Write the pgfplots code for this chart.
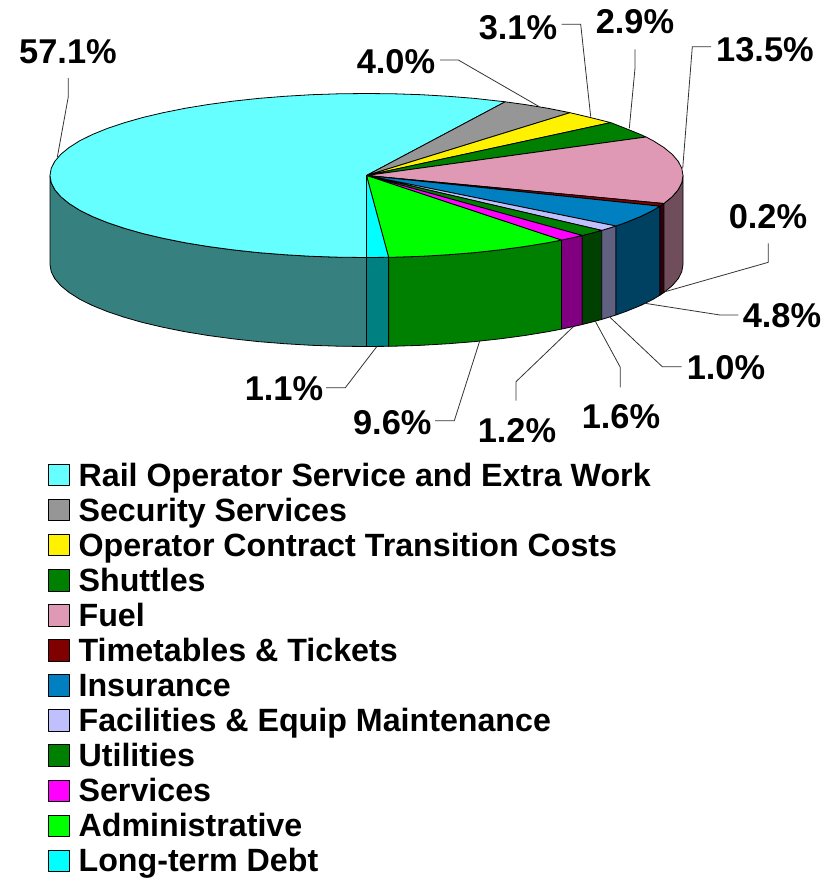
\documentclass[border=0pt]{standalone}
\usepackage{fontspec}
\setmainfont{Liberation Sans}
\usepackage{pgfplots}
\pgfplotsset{compat=1.18}
\definecolor{cRail}{RGB}{102,255,255}
\definecolor{cRailS}{RGB}{55,128,128}
\definecolor{cSec}{RGB}{150,150,150}
\definecolor{cFuel}{RGB}{223,153,180}
\definecolor{cFuelS}{RGB}{111,77,90}
\definecolor{cTime}{RGB}{128,0,0}
\definecolor{cTimeS}{RGB}{50,0,10}
\definecolor{cIns}{RGB}{0,128,192}
\definecolor{cInsS}{RGB}{0,64,96}
\definecolor{cFac}{RGB}{192,192,255}
\definecolor{cFacS}{RGB}{96,96,128}
\definecolor{cUtilS}{RGB}{0,64,0}
\definecolor{cGreen}{RGB}{0,128,0}
\definecolor{cServ}{RGB}{255,0,255}
\definecolor{cServS}{RGB}{128,0,128}
\definecolor{cAdm}{RGB}{0,255,0}
\definecolor{cDebt}{RGB}{0,255,255}
\definecolor{cDebtS}{RGB}{0,128,128}
\pgfplotsset{
  wedge/.style={fill=#1,draw=black,line width=0.8pt,line join=round,mark=none},
  side/.style={fill=#1,draw=black,line width=0.8pt,line join=round,mark=none,forget plot},
  leader/.style={draw=black!80,line width=0.8pt,mark=none,forget plot},
}
\newcommand{\pct}[3]{\node[font=\fontsize{34.4}{34.4}\selectfont\bfseries,inner sep=0pt] at (axis cs:#1,#2) {#3};}
\begin{document}
\begin{tikzpicture}
\begin{axis}[
  hide axis, scale only axis, width=821pt, height=879pt,
  xmin=0, xmax=821, ymin=0, ymax=879, y dir=reverse, clip=false,
  legend cell align=left,
  legend image code/.code={\draw[#1] (0pt,0.5pt) rectangle (21.3pt,21.8pt);},
  legend style={at={(axis cs:48,456.2)},anchor=north west,draw=none,fill=none,
    inner sep=0pt,outer sep=0pt,row sep=0pt,column sep=8.5pt,
    font=\fontsize{32.2}{32.2}\selectfont\bfseries,
    nodes={inner sep=0pt,outer sep=0pt,text height=30.05pt,text depth=5pt,anchor=base west}},
]
% side faces
\addplot[side=cRailS] coordinates {(50,175.5)(51.2,182.6)(54.8,189.7)(60.8,196.7)(69.1,203.5)(79.7,210.2)(92.4,216.5)(107.2,222.5)(124.1,228.2)(142.7,233.5)(163.1,238.3)(185,242.7)(208.2,246.5)(232.7,249.8)(258.3,252.6)(284.6,254.7)(311.5,256.3)(338.9,257.2)(366.5,257.5)(366.5,346.5)(338.9,346.2)(311.5,345.3)(284.6,343.7)(258.3,341.6)(232.7,338.8)(208.2,335.5)(185,331.7)(163.1,327.3)(142.7,322.5)(124.1,317.2)(107.2,311.5)(92.4,305.5)(79.7,299.2)(69.1,292.5)(60.8,285.7)(54.8,278.7)(51.2,271.6)(50,264.5)(50,175.5)};
\addplot[side=cDebtS] coordinates {(366.5,257.5)(388.6,257.3)(388.6,346.3)(366.5,346.5)(366.5,257.5)};
\addplot[side=cGreen] coordinates {(388.6,257.3)(394.1,257.2)(421.5,256.3)(448.4,254.7)(474.7,252.6)(500.3,249.8)(524.8,246.5)(548,242.7)(561.4,240.1)(561.4,329.1)(548,331.7)(524.8,335.5)(500.3,338.8)(474.7,341.6)(448.4,343.7)(421.5,345.3)(394.1,346.2)(388.6,346.3)(388.6,257.3)};
\addplot[side=cServS] coordinates {(561.4,240.1)(569.9,238.3)(582.3,235.5)(582.3,324.5)(569.9,327.3)(561.4,329.1)(561.4,240.1)};
\addplot[side=cUtilS] coordinates {(582.3,235.5)(590.3,233.5)(601.7,230.4)(601.7,319.4)(590.3,322.5)(582.3,324.5)(582.3,235.5)};
\addplot[side=cFacS] coordinates {(601.7,230.4)(608.9,228.2)(615.9,226)(615.9,315)(608.9,317.2)(601.7,319.4)(601.7,230.4)};
\addplot[side=cInsS] coordinates {(615.9,226)(625.8,222.5)(640.6,216.5)(653.3,210.2)(659.9,206.2)(659.9,295.2)(653.3,299.2)(640.6,305.5)(625.8,311.5)(615.9,315)(615.9,226)};
\addplot[side=cTimeS] coordinates {(659.9,206.2)(663.9,203.5)(663.9,292.5)(659.9,295.2)(659.9,206.2)};
\addplot[side=cFuelS] coordinates {(663.9,203.5)(672.2,196.7)(678.2,189.7)(681.8,182.6)(683,175.5)(683,264.5)(681.8,271.6)(678.2,278.7)(672.2,285.7)(663.9,292.5)(663.9,203.5)};
% top wedges
\addplot[wedge=cRail] coordinates {(366.5,175.5)(505.2,101.8)(474.7,98.4)(448.4,96.3)(421.5,94.7)(394.1,93.8)(366.5,93.5)(338.9,93.8)(311.5,94.7)(284.6,96.3)(258.3,98.4)(232.7,101.2)(208.2,104.5)(185,108.3)(163.1,112.7)(142.7,117.5)(124.1,122.8)(107.2,128.5)(92.4,134.5)(79.7,140.8)(69.1,147.5)(60.8,154.3)(54.8,161.3)(51.2,168.4)(50,175.5)(51.2,182.6)(54.8,189.7)(60.8,196.7)(69.1,203.5)(79.7,210.2)(92.4,216.5)(107.2,222.5)(124.1,228.2)(142.7,233.5)(163.1,238.3)(185,242.7)(208.2,246.5)(232.7,249.8)(258.3,252.6)(284.6,254.7)(311.5,256.3)(338.9,257.2)(366.5,257.5)(366.5,175.5)};
\addlegendentry{Rail Operator Service and Extra Work}
\addplot[wedge=cSec] coordinates {(366.5,175.5)(570,112.7)(548,108.3)(524.8,104.5)(505.2,101.8)(366.5,175.5)};
\addlegendentry{Security Services}
\addplot[wedge=yellow] coordinates {(366.5,175.5)(610.7,122.6)(590.3,117.5)(570,112.7)(366.5,175.5)};
\addlegendentry{Operator Contract Transition Costs}
\addplot[wedge=cGreen] coordinates {(366.5,175.5)(646,137)(640.6,134.5)(625.8,128.5)(610.7,122.6)(366.5,175.5)};
\addlegendentry{Shuttles}
\addplot[wedge=cFuel] coordinates {(366.5,175.5)(663.9,203.5)(672.2,196.7)(678.2,189.7)(681.8,182.6)(683,175.5)(681.8,168.4)(678.2,161.3)(672.2,154.3)(663.9,147.5)(653.3,140.8)(646,137)(366.5,175.5)};
\addlegendentry{Fuel}
\addplot[wedge=cTime] coordinates {(366.5,175.5)(659.9,206.2)(663.9,203.5)(366.5,175.5)};
\addlegendentry{Timetables \& Tickets}
\addplot[wedge=cIns] coordinates {(366.5,175.5)(615.9,226)(625.8,222.5)(640.6,216.5)(653.3,210.2)(659.9,206.2)(366.5,175.5)};
\addlegendentry{Insurance}
\addplot[wedge=cFac] coordinates {(366.5,175.5)(601.7,230.4)(608.9,228.2)(615.9,226)(366.5,175.5)};
\addlegendentry{Facilities \& Equip Maintenance}
\addplot[wedge=cGreen] coordinates {(366.5,175.5)(582.3,235.5)(590.3,233.5)(601.7,230.4)(366.5,175.5)};
\addlegendentry{Utilities}
\addplot[wedge=cServ] coordinates {(366.5,175.5)(561.4,240.1)(569.9,238.3)(582.3,235.5)(366.5,175.5)};
\addlegendentry{Services}
\addplot[wedge=cAdm] coordinates {(366.5,175.5)(388.6,257.3)(394.1,257.2)(421.5,256.3)(448.4,254.7)(474.7,252.6)(500.3,249.8)(524.8,246.5)(548,242.7)(561.4,240.1)(366.5,175.5)};
\addlegendentry{Administrative}
\addplot[wedge=cDebt] coordinates {(366.5,175.5)(366.5,257.5)(388.6,257.3)(366.5,175.5)};
\addlegendentry{Long-term Debt}
% leaders
\addplot[leader] coordinates {(57.3,157.3)(68.3,96.7)(68.3,78)};
\addplot[leader] coordinates {(440,60)(458.3,60)(539.3,106.7)};
\addplot[leader] coordinates {(561.7,24.3)(580.7,24.3)(590.7,116.7)};
\addplot[leader] coordinates {(635,49.3)(635,68.3)(629.3,128.3)};
\addplot[leader] coordinates {(711,46.7)(692.3,46.7)(682.7,168.3)};
\addplot[leader] coordinates {(768.3,243.3)(768.3,262.3)(665,291.7)};
\addplot[leader] coordinates {(738.3,315)(720,315)(645,303.3)};
\addplot[leader] coordinates {(681.7,366.7)(662.3,366.7)(610,317.3)};
\addplot[leader] coordinates {(620.3,387.3)(620.3,367.3)(595,320.7)};
\addplot[leader] coordinates {(516,400.7)(516,381.7)(573.3,326.7)};
\addplot[leader] coordinates {(435,420.7)(454.3,420.7)(480,340)};
\addplot[leader] coordinates {(326,387.7)(345.3,387.7)(376.7,346.7)};
% labels
\pct{68}{52}{57.1\%}
\pct{396}{62}{4.0\%}
\pct{518}{28}{3.1\%}
\pct{635}{22}{2.9\%}
\pct{765}{50}{13.5\%}
\pct{768}{217}{0.2\%}
\pct{782}{316}{4.8\%}
\pct{726}{368}{1.0\%}
\pct{621}{417}{1.6\%}
\pct{517}{431}{1.2\%}
\pct{392.3}{422.5}{9.6\%}
\pct{284}{389}{1.1\%}
\end{axis}
\pgfresetboundingbox
\path[use as bounding box] (0,0) rectangle (821pt,879pt);
\end{tikzpicture}
\end{document}
